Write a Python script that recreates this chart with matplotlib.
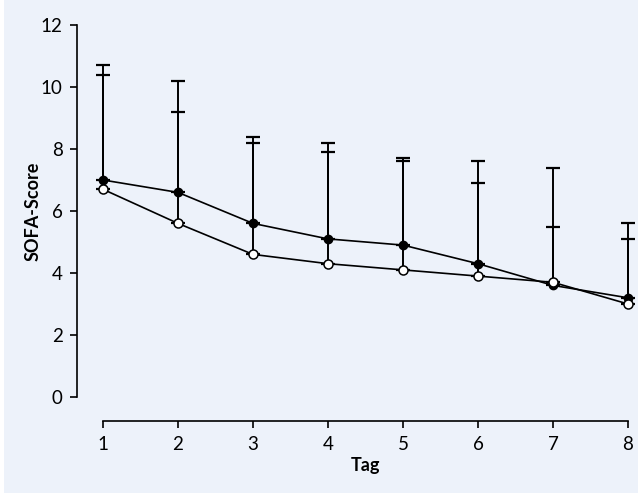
import matplotlib.pyplot as plt
from matplotlib.patches import Rectangle

plt.rcParams['font.family'] = ['Lato', 'DejaVu Sans']

# Tag 1..8
days = [1, 2, 3, 4, 5, 6, 7, 8]

# gefuellte Kreise
filled_mean = [7.0, 6.6, 5.6, 5.1, 4.9, 4.3, 3.6, 3.2]
filled_top = [10.7, 9.2, 8.4, 8.2, 7.7, 7.6, 7.4, 5.6]

# offene Kreise
open_mean = [6.7, 5.6, 4.6, 4.3, 4.1, 3.9, 3.7, 3.0]
open_top = [10.4, 10.2, 8.2, 7.9, 7.6, 6.9, 5.5, 5.1]

bg = '#edf2fa'

fig = plt.figure(figsize=(6.38, 4.93), dpi=100, facecolor='white')
fig.patches.append(Rectangle((0.006, 0), 0.994, 1, transform=fig.transFigure,
                             facecolor=bg, edgecolor='none', zorder=-10))
ax = fig.add_axes([103 / 638, 96 / 493, 525 / 638, 372 / 493])
ax.patch.set_alpha(0)

# Fehlerbalken nur nach oben
for mean, top in [(open_mean, open_top), (filled_mean, filled_top)]:
    up = [t - m for m, t in zip(mean, top)]
    ax.errorbar(days, mean, yerr=[[0] * len(mean), up], fmt='none',
                ecolor='black', elinewidth=1.4, capsize=5, capthick=1.6,
                clip_on=False, zorder=2)

ax.plot(days, filled_mean, color='black', lw=1.2, marker='o', ms=6,
        mfc='black', mec='black', clip_on=False, zorder=3)
ax.plot(days, open_mean, color='black', lw=1.2, marker='o', ms=6.5,
        mfc='white', mec='black', mew=1.1, clip_on=False, zorder=4)

ax.set_xlim(1, 8)
ax.set_ylim(0, 12)
ax.set_xticks(days)
ax.set_yticks([0, 2, 4, 6, 8, 10, 12])

for side in ['top', 'right']:
    ax.spines[side].set_visible(False)
ax.spines['left'].set_position(('outward', 19))
ax.spines['bottom'].set_position(('outward', 17))
ax.spines['left'].set_linewidth(1.2)
ax.spines['bottom'].set_linewidth(1.2)
ax.tick_params(axis='both', labelsize=13.5, length=5, width=1.2, colors='black')
ax.tick_params(axis='y', pad=5)
ax.tick_params(axis='x', pad=6)

ax.set_xlabel('Tag', fontsize=13, fontweight='bold', labelpad=3)
ax.set_ylabel('SOFA-Score', fontsize=13, fontweight='bold')
ax.yaxis.set_label_coords(-0.118, 0.5)

fig.savefig('out.png', dpi=100, facecolor=fig.get_facecolor())
